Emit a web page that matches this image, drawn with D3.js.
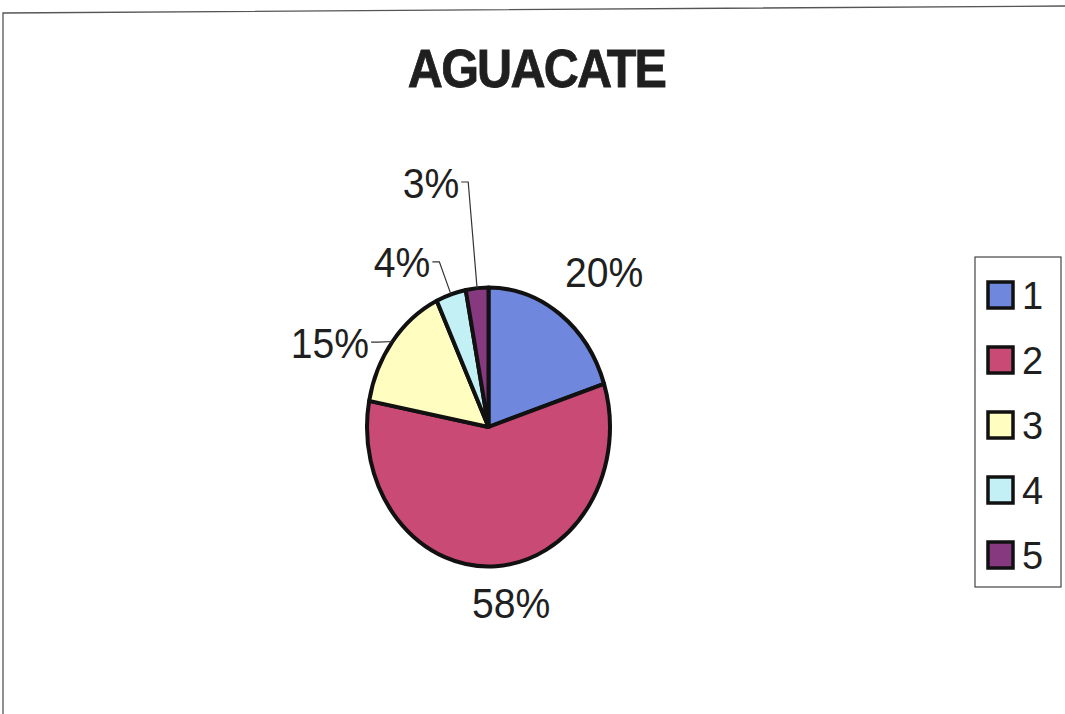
<!DOCTYPE html>
<html>
<head>
<meta charset="utf-8">
<script src="https://cdn.jsdelivr.net/npm/d3@7"></script>
<style>
  html, body { margin: 0; padding: 0; background: #fff; }
  svg { display: block; }
</style>
</head>
<body>
<svg id="chart" width="1065" height="714"></svg>
<script>
// ---- data ----
const title = "AGUACATE";
const categories = ["1", "2", "3", "4", "5"];
const shares = [20, 58, 15, 4, 3];            // percent of total
const sliceColors = ["#6F87DC", "#CA4A76", "#FFFDC0", "#C2F0F5", "#86397F"];

// ---- layout ----
const W = 1065, H = 714;
const cx = 488.5, cy = 427;          // pie centre
const rx = 121.5, ry = 139.5;        // elliptical pie radii
const labelTurn = [4.4, -4.8, -12.8, -13, -9.7];   // degrees from slice middle
const labelReach = [1.468, 1.272, 1.44, 1.381, 1.819]; // in pie radii
const hasLeader = [false, false, true, true, true];
const ink = "#1f1f1f";
const font = "'Liberation Sans', Arial, sans-serif";

const svg = d3.select("#chart");

// frame of the chart area
svg.append("path")
  .attr("d", `M3,${H} L3,13 L${W},6`)
  .attr("fill", "none")
  .attr("stroke", "#555")
  .attr("stroke-width", 1.3);

// title
svg.append("text")
  .attr("transform", `translate(536.5,87) scale(0.9,1)`)
  .attr("text-anchor", "middle")
  .attr("font-family", font)
  .attr("font-weight", "bold")
  .attr("font-size", 54)
  .attr("letter-spacing", -2)
  .attr("fill", ink)
  .attr("stroke", ink)
  .attr("stroke-width", 0.8)
  .text(title);

// pie
const pie = d3.pie().sort(null).value(d => d)(shares);
const arc = d3.arc().innerRadius(0).outerRadius(rx);
const color = d3.scaleOrdinal().domain(categories).range(sliceColors);

const pieG = svg.append("g")
  .attr("transform", `translate(${cx},${cy}) scale(1,${ry / rx})`);

pieG.selectAll("path")
  .data(pie)
  .join("path")
  .attr("d", arc)
  .attr("fill", (d, i) => color(categories[i]))
  .attr("stroke", "#111")
  .attr("stroke-width", 4)
  .attr("stroke-linejoin", "round")
  .attr("vector-effect", "non-scaling-stroke");

// point on the elliptical pie at angle a (radians, clockwise from top), k radii out
const onPie = (a, k) => [cx + rx * k * Math.sin(a), cy - ry * k * Math.cos(a)];

// percentage labels
const labelG = svg.append("g");
pie.forEach((d, i) => {
  const mid = (d.startAngle + d.endAngle) / 2;
  const [lx, ly] = onPie(mid + labelTurn[i] * Math.PI / 180, labelReach[i]);
  const t = labelG.append("text")
    .attr("transform", `translate(${lx},${ly}) scale(0.91,1)`)
    .attr("text-anchor", "middle")
    .attr("dy", "0.36em")
    .attr("font-family", font)
    .attr("font-size", 43)
    .attr("fill", ink)
    .text(d3.format(".0f")(shares[i]) + "%");

  if (hasLeader[i]) {
    const bb = t.node().getBBox();
    const right = lx + (bb.x + bb.width) * 0.91 + 2;
    const [ex, ey] = onPie(mid, 1.0);
    labelG.append("path")
      .attr("d", `M${right},${ly} H${right + 7} L${ex},${ey}`)
      .attr("fill", "none")
      .attr("stroke", "#333")
      .attr("stroke-width", 1.2);
  }
});

// legend
const legY = d3.scalePoint().domain(categories).range([295, 555]);
const legG = svg.append("g");
legG.append("rect")
  .attr("x", 975).attr("y", 257)
  .attr("width", 86).attr("height", 330)
  .attr("fill", "#fff")
  .attr("stroke", "#444")
  .attr("stroke-width", 1.2);

const rows = legG.selectAll("g.row")
  .data(categories)
  .join("g")
  .attr("class", "row")
  .attr("transform", d => `translate(0,${legY(d)})`);

rows.append("rect")
  .attr("x", 988).attr("y", -13)
  .attr("width", 25).attr("height", 26)
  .attr("fill", d => color(d))
  .attr("stroke", "#111")
  .attr("stroke-width", 3.5);

rows.append("text")
  .attr("x", 1022)
  .attr("dy", "0.36em")
  .attr("font-family", font)
  .attr("font-size", 38)
  .attr("fill", ink)
  .text(d => d);
</script>
</body>
</html>
